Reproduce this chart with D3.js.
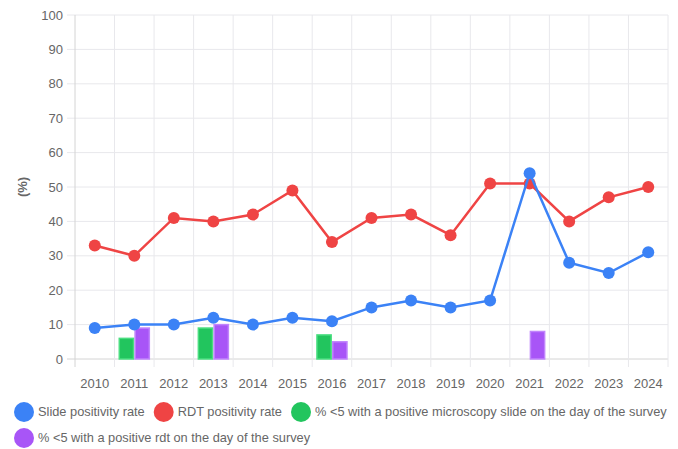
<!DOCTYPE html>
<html>
<head>
<meta charset="UTF-8">
<title>Positivity rates</title>
<script src="https://d3js.org/d3.v7.min.js"></script>
<style>
  body { margin: 0; background: #fff; }
  svg { display: block; font-family: "Liberation Sans", Arial, sans-serif; }
</style>
</head>
<body>
<div id="chart"></div>
<script>
const years = ["2010","2011","2012","2013","2014","2015","2016","2017","2018","2019","2020","2021","2022","2023","2024"];
const slideRate = [9, 10, 10, 12, 10, 12, 11, 15, 17, 15, 17, 54, 28, 25, 31];
const rdtRate = [33, 30, 41, 40, 42, 49, 34, 41, 42, 36, 51, 51, 40, 47, 50];
const microU5 = [null, 6, null, 9, null, null, 7, null, null, null, null, null, null, null, null];
const rdtU5 = [null, 9, null, 10, null, null, 5, null, null, null, null, 8, null, null, null];
const yTicks = [0, 10, 20, 30, 40, 50, 60, 70, 80, 90, 100];

const W = 678, H = 449;
const margin = { left: 75, right: 10, top: 15, bottom: 90 };

const svg = d3.select("#chart").append("svg")
    .attr("width", W).attr("height", H);

const x = d3.scaleBand().domain(years).range([margin.left, W - margin.right]);
const y = d3.scaleLinear().domain([0, 100]).range([H - margin.bottom, margin.top]);

// grid
const grid = svg.append("g");
grid.selectAll("line.h").data(yTicks).join("line")
    .attr("x1", margin.left - 8).attr("x2", W - margin.right)
    .attr("y1", d => y(d)).attr("y2", d => y(d))
    .attr("stroke", d => d === 0 ? "#d4d4d4" : "#e8e8ec").attr("stroke-width", 1);
const bounds = years.map(d => x(d)).concat([W - margin.right]);
grid.selectAll("line.v").data(bounds).join("line")
    .attr("x1", d => d).attr("x2", d => d)
    .attr("y1", margin.top).attr("y2", y(0) + 8)
    .attr("stroke", (d, i) => i === 0 ? "#d4d4d4" : "#e8e8ec").attr("stroke-width", 1);

// y tick labels
svg.append("g").selectAll("text").data(yTicks).join("text")
    .attr("x", margin.left - 12).attr("y", d => y(d))
    .attr("dy", "0.35em").attr("text-anchor", "end")
    .attr("font-size", 13).attr("fill", "#666")
    .text(d => d);

// x tick labels
svg.append("g").selectAll("text").data(years).join("text")
    .attr("x", d => x(d) + x.bandwidth() / 2).attr("y", y(0) + 24)
    .attr("dy", "0.35em").attr("text-anchor", "middle")
    .attr("font-size", 13).attr("fill", "#666")
    .text(d => d);

// axis title
svg.append("text")
    .attr("transform", `translate(22,${(y(0) + y(100)) / 2}) rotate(-90)`)
    .attr("text-anchor", "middle").attr("dy", "0.35em")
    .attr("font-size", 13).attr("font-weight", "bold").attr("fill", "#666")
    .text("(%)");

// bars
const sub = d3.scaleBand().domain(["micro", "rdt"])
    .range([0, x.bandwidth() * 0.8]);
const barW = sub.bandwidth() * 0.9;
const barSeries = [
  { key: "micro", vals: microU5, fill: "#22c55e", stroke: "#4ade80" },
  { key: "rdt", vals: rdtU5, fill: "#a855f7", stroke: "#c084fc" }
];
barSeries.forEach(s => {
  svg.append("g").selectAll("rect")
    .data(years.map((yr, i) => ({ yr, v: s.vals[i] })).filter(d => d.v != null))
    .join("rect")
    .attr("x", d => x(d.yr) + x.bandwidth() * 0.1 + sub(s.key) + (sub.bandwidth() - barW) / 2)
    .attr("width", barW)
    .attr("y", d => y(d.v))
    .attr("height", d => y(0) - y(d.v))
    .attr("fill", s.fill).attr("stroke", s.stroke).attr("stroke-width", 1.5);
});

// lines
const lineSeries = [
  { vals: rdtRate, color: "#ef4444" },
  { vals: slideRate, color: "#3b82f6" }
];
const line = d3.line()
    .x((d, i) => x(years[i]) + x.bandwidth() / 2)
    .y(d => y(d));
lineSeries.forEach(s => {
  const g = svg.append("g");
  g.append("path").datum(s.vals)
    .attr("d", line).attr("fill", "none")
    .attr("stroke", s.color).attr("stroke-width", 2.5);
  g.selectAll("circle").data(s.vals).join("circle")
    .attr("cx", (d, i) => x(years[i]) + x.bandwidth() / 2)
    .attr("cy", d => y(d)).attr("r", 6)
    .attr("fill", s.color);
});

// legend
const legendItems = [
  { label: "Slide positivity rate", color: "#3b82f6" },
  { label: "RDT positivity rate", color: "#ef4444" },
  { label: "% <5 with a positive microscopy slide on the day of the survey", color: "#22c55e" },
  { label: "% <5 with a positive rdt on the day of the survey", color: "#a855f7" }
];
const rows = [[0, 1, 2], [3]];
const rowY = [412, 438];
rows.forEach((row, r) => {
  let cx = 14;
  row.forEach(idx => {
    const it = legendItems[idx];
    svg.append("circle")
      .attr("cx", cx + 10).attr("cy", rowY[r]).attr("r", 10)
      .attr("fill", it.color);
    const t = svg.append("text")
      .attr("x", cx + 24).attr("y", rowY[r]).attr("dy", "0.35em")
      .attr("font-size", 12.8).attr("fill", "#666")
      .text(it.label);
    cx += 24 + t.node().getComputedTextLength() + 9;
  });
});
</script>
</body>
</html>
